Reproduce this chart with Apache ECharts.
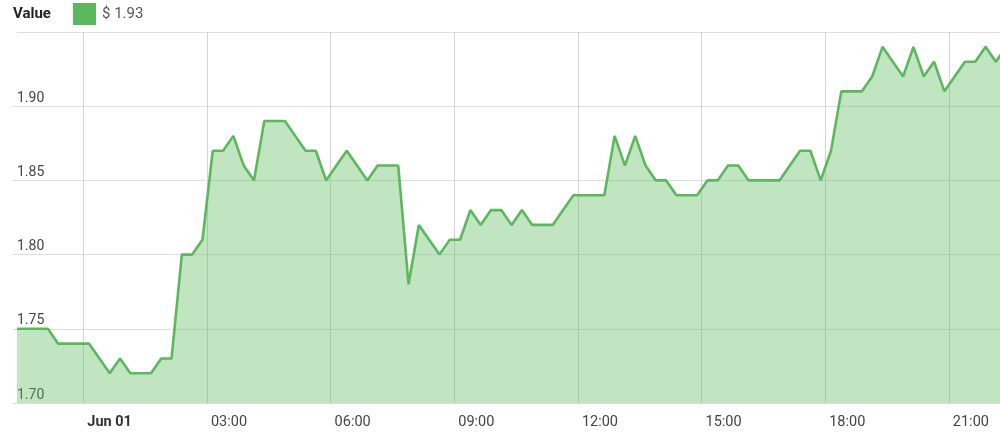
<!DOCTYPE html>
<html>
<head>
<meta charset="utf-8">
<script src="https://cdn.jsdelivr.net/npm/echarts@6/dist/echarts.min.js"></script>
<style>
html,body{margin:0;padding:0;background:#fff;}
#chart{width:1000px;height:441px;}
</style>
</head>
<body>
<div id="chart"></div>
<script>
// ---- data ----
const seriesName = 'Value';
const legendLabel = '$ 1.93';
const firstSampleTime = '2024-05-31T22:23:30';
const sampleStepMinutes = 15;
const axisStart = '2024-05-31T22:23:30';
const axisEnd = '2024-06-01T22:14:30';
const tickTimes = [
  '2024-06-01T00:00:00','2024-06-01T03:00:00','2024-06-01T06:00:00','2024-06-01T09:00:00',
  '2024-06-01T12:00:00','2024-06-01T15:00:00','2024-06-01T18:00:00','2024-06-01T21:00:00'
];
const values = [
  1.75,1.75,1.75,1.75,1.74,1.74,1.74,1.74,1.73,1.72,
  1.73,1.72,1.72,1.72,1.73,1.73,1.80,1.80,1.81,1.87,
  1.87,1.88,1.86,1.85,1.89,1.89,1.89,1.88,1.87,1.87,
  1.85,1.86,1.87,1.86,1.85,1.86,1.86,1.86,1.78,1.82,
  1.81,1.80,1.81,1.81,1.83,1.82,1.83,1.83,1.82,1.83,
  1.82,1.82,1.82,1.83,1.84,1.84,1.84,1.84,1.88,1.86,
  1.88,1.86,1.85,1.85,1.84,1.84,1.84,1.85,1.85,1.86,
  1.86,1.85,1.85,1.85,1.85,1.86,1.87,1.87,1.85,1.87,
  1.91,1.91,1.91,1.92,1.94,1.93,1.92,1.94,1.92,1.93,
  1.91,1.92,1.93,1.93,1.94,1.93,1.94
];
const yMin = 1.70, yMax = 1.95, yInterval = 0.05;
const monthNames = ['Jan','Feb','Mar','Apr','May','Jun','Jul','Aug','Sep','Oct','Nov','Dec'];

// ---- build ----
const t0 = new Date(firstSampleTime).getTime();
const points = values.map((v, i) => [t0 + i * sampleStepMinutes * 60000, v]);
const tickValues = tickTimes.map(s => new Date(s).getTime());
const pad = n => (n < 10 ? '0' : '') + n;

const green = '#5cb85c';
const gridColor = '#dddddd';
const vGridColor = '#d3d3d3';
const chart = echarts.init(document.getElementById('chart'), null, {renderer: 'canvas'});
chart.setOption({
  animation: false,
  textStyle: {fontFamily: 'Roboto'},
  title: {
    text: seriesName,
    left: 13, top: 7, padding: 0,
    textStyle: {fontFamily: 'Roboto', fontSize: 15, fontWeight: 'bold', color: '#222'}
  },
  legend: {
    left: 73, top: 3, padding: 0,
    icon: 'rect',
    itemWidth: 23, itemHeight: 22,
    selectedMode: false,
    formatter: () => legendLabel,
    textStyle: {fontFamily: 'Roboto', fontSize: 15, color: '#555', padding: [0,0,0,1]}
  },
  grid: {left: 17, right: 0, top: 32, bottom: 38, containLabel: false},
  xAxis: {
    type: 'value',
    min: new Date(axisStart).getTime(),
    max: new Date(axisEnd).getTime(),
    axisLine: {show: false},
    axisTick: {show: false, customValues: tickValues},
    splitLine: {show: true, lineStyle: {color: vGridColor, width: 1}},
    axisLabel: {
      customValues: tickValues,
      margin: 12,
      align: 'left',
      padding: [0, 0, 0, 4],
      color: '#444',
      fontSize: 14.5,
      fontFamily: 'Roboto',
      formatter: function (val) {
        const d = new Date(val);
        if (d.getHours() === 0 && d.getMinutes() === 0) {
          return '{b|' + monthNames[d.getMonth()] + ' ' + pad(d.getDate()) + '}';
        }
        return pad(d.getHours()) + ':' + pad(d.getMinutes());
      },
      rich: {b: {fontWeight: 'bold', fontSize: 14.5, color: '#333', fontFamily: 'Roboto'}}
    }
  },
  yAxis: {
    type: 'value',
    min: yMin, max: yMax, interval: yInterval,
    axisLine: {show: false},
    axisTick: {show: true, length: 5, lineStyle: {color: gridColor}},
    splitLine: {show: true, lineStyle: {color: gridColor, width: 1}},
    axisLabel: {
      inside: true,
      margin: 0,
      verticalAlign: 'bottom',
      padding: [0, 0, 1, 0],
      color: '#444',
      fontSize: 14,
      fontFamily: 'Roboto',
      showMaxLabel: false,
      formatter: v => v.toFixed(2)
    }
  },
  series: [{
    name: seriesName,
    type: 'line',
    data: points,
    showSymbol: false,
    symbol: 'none',
    clip: true,
    color: green,
    lineStyle: {color: green, width: 2.6},
    areaStyle: {color: green, opacity: 0.38},
    z: 1
  }]
});
</script>
</body>
</html>
